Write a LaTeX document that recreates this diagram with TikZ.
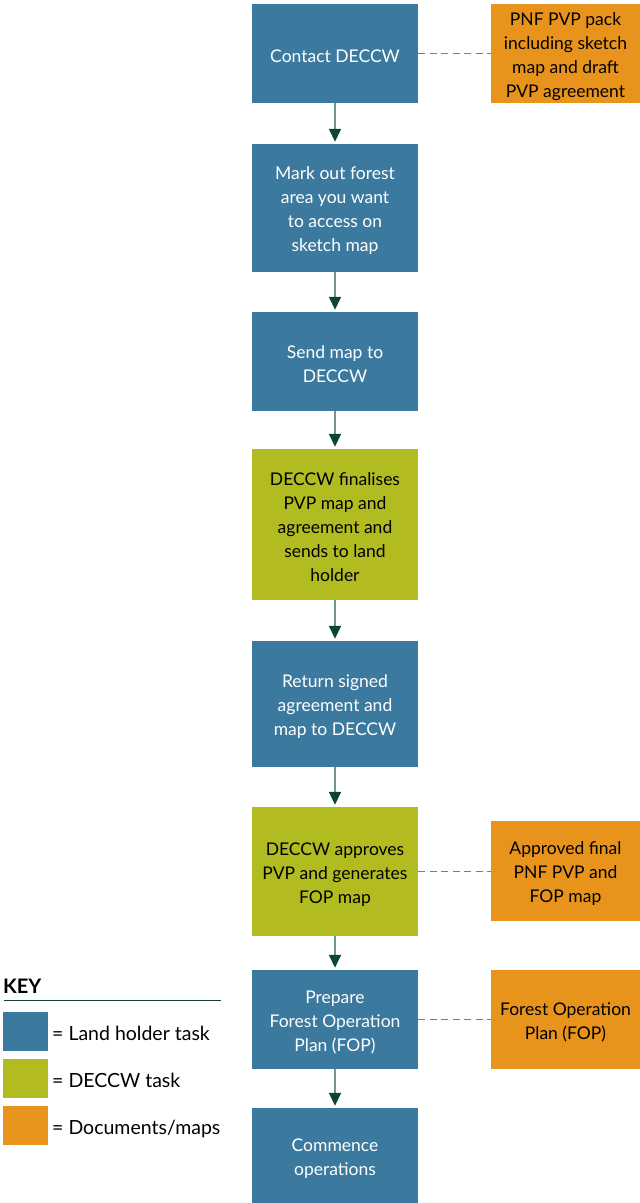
\documentclass[tikz,border=0pt]{standalone}
\usepackage{fontspec}
\setmainfont{Lato}
\usetikzlibrary{arrows.meta}
\definecolor{landblue}{HTML}{3B799E}
\definecolor{deccwgreen}{HTML}{B2BB1F}
\definecolor{docorange}{HTML}{E8941C}
\definecolor{arrowdark}{HTML}{0C4535}
\definecolor{arrowline}{HTML}{6F9690}
\definecolor{dashcol}{HTML}{5F8A85}
\tikzset{
  box/.style={rectangle, inner sep=0pt},
  landbox/.style={box, fill=landblue, minimum width=166pt},
  deccwbox/.style={box, fill=deccwgreen, minimum width=166pt},
  docbox/.style={box, fill=docorange, minimum width=149pt},
  boxtext/.style={inner sep=0pt, align=center, font=\fontsize{17.5}{24}\selectfont, yshift=-3pt},
  whitetext/.style={boxtext, text=white},
  blacktext/.style={boxtext, text=black},
  flow/.style={draw=arrowline, line width=1.6pt, -{Triangle[length=13pt,width=12pt,color=arrowdark]}, shorten >=2pt},
  link/.style={draw=dashcol, line width=1.5pt, dash pattern=on 7pt off 4.5pt},
  keysq/.style={rectangle, inner sep=0pt, minimum width=45pt, minimum height=39pt},
  keytxt/.style={anchor=base west, inner sep=0pt, font=\fontsize{19.5}{22}\selectfont}
}
\begin{document}
\begin{tikzpicture}[x=1pt,y=-1pt]
\useasboundingbox (0,0) rectangle (640,1203);
\node[landbox, minimum height=99pt] (b1) at (335,53.5) {};
\node[landbox, minimum height=128pt] (b2) at (335,208) {};
\node[landbox, minimum height=99pt] (b3) at (335,361.5) {};
\node[deccwbox, minimum height=151pt] (b4) at (335,524.5) {};
\node[landbox, minimum height=126pt] (b5) at (335,704) {};
\node[deccwbox, minimum height=129pt] (b6) at (335,871.5) {};
\node[landbox, minimum height=99pt] (b7) at (335,1019.5) {};
\node[landbox, minimum height=95pt] (b8) at (335,1155.5) {};
\node[docbox, minimum height=99pt] (d1) at (565.5,53.5) {};
\node[docbox, minimum height=100pt] (d2) at (565.5,871) {};
\node[docbox, minimum height=99pt] (d3) at (565.5,1019.5) {};

\node[whitetext] (b1t) at (b1.center) {Contact DECCW};
\node[whitetext] (b2t) at (b2.center) {Mark out forest\\area you want\\to access on\\sketch map};
\node[whitetext] (b3t) at (b3.center) {Send map to\\DECCW};
\node[blacktext] (b4t) at (b4.center) {DECCW finalises\\PVP map and\\agreement and\\sends to land\\holder};
\node[whitetext] (b5t) at (b5.center) {Return signed\\agreement and\\map to DECCW};
\node[blacktext] (b6t) at (b6.center) {DECCW approves\\PVP and generates\\FOP map};
\node[whitetext] (b7t) at (b7.center) {Prepare\\Forest Operation\\Plan (FOP)};
\node[whitetext] (b8t) at (b8.center) {Commence\\operations};
\node[blacktext] (d1t) at (d1.center) {PNF PVP pack\\including sketch\\map and draft\\PVP agreement};
\node[blacktext] (d2t) at (d2.center) {Approved final\\PNF PVP and\\FOP map};
\node[blacktext] (d3t) at (d3.center) {Forest Operation\\Plan (FOP)};

\draw[flow] (b1) -- (b2);
\draw[flow] (b2) -- (b3);
\draw[flow] (b3) -- (b4);
\draw[flow] (b4) -- (b5);
\draw[flow] (b5) -- (b6);
\draw[flow] (b6) -- (b7);
\draw[flow] (b7) -- (b8);

\draw[link] (b1.east) -- (d1.west);
\draw[link] (b6.east) -- (b6.east -| d2.west);
\draw[link] (b7.east) -- (d3.west);

\node[anchor=base west, inner sep=0pt, font=\fontsize{20}{22}\selectfont\bfseries] (keyt) at (3,993) {KEY};
\coordinate (kl) at (4,1000);
\coordinate (kr) at (221,1000);
\draw[draw=arrowdark, line width=1pt] (kl) -- (kr);
\node[keysq, fill=landblue] (k1) at (25.5,1031.5) {};
\node[keysq, fill=deccwgreen] (k2) at (25.5,1078.5) {};
\node[keysq, fill=docorange] (k3) at (25.5,1125.5) {};
\node[keytxt] (t1) at (52,1040) {= Land holder task};
\node[keytxt] (t2) at (52,1087) {= DECCW task};
\node[keytxt] (t3) at (52,1134) {= Documents/maps};
\end{tikzpicture}
\end{document}
